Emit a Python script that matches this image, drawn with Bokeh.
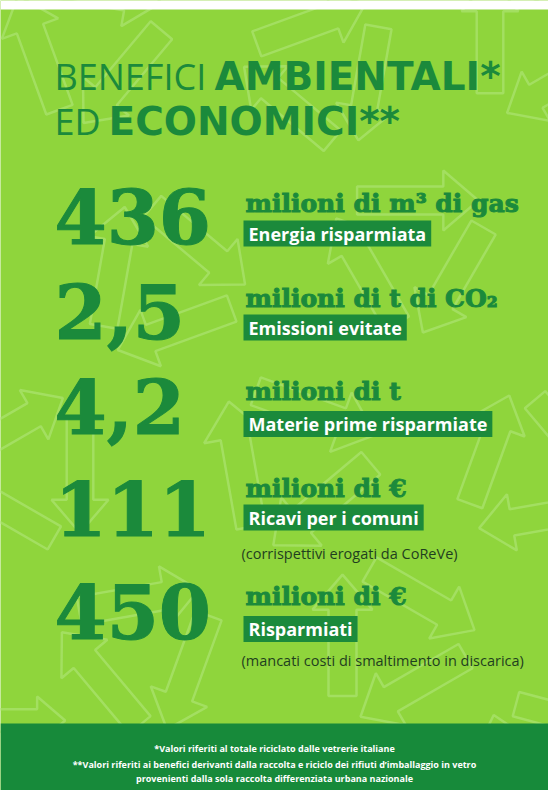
import math
from bokeh.plotting import figure
from bokeh.models import Range1d
from bokeh.embed import file_html
from bokeh.resources import INLINE
from bokeh.core.properties import value

# ---------------- data ----------------
title_light = ["BENEFICI", "ED"]
title_bold = ["AMBIENTALI*", "ECONOMICI**"]
values = ["436", "2,5", "4,2", "111", "450"]
units = ["milioni di m³ di gas", "milioni di t di CO₂", "milioni di t", "milioni di €", "milioni di €"]
labels = ["Energia risparmiata", "Emissioni evitate", "Materie prime risparmiate",
          "Ricavi per i comuni", "Risparmiati"]
notes = ["", "", "", "(corrispettivi erogati da CoReVe)", "(mancati costi di smaltimento in discarica)"]
footnotes = [
    "*Valori riferiti al totale riciclato dalle vetrerie italiane",
    "**Valori riferiti ai benefici derivanti dalla raccolta e riciclo dei rifiuti d\u2019imballaggio in vetro",
    "provenienti dalla sola raccolta differenziata urbana nazionale",
]

# ---------------- layout (screen pixel positions, top-down; y = visual centre) ----------------
W, H = 548, 790
X0 = 8
top_margin = 9
title_centers = [76, 121]
title_light_x = [62, 62]
title_bold_x = [222, 116]
num_x = 62
num_centers = [216, 311, 406, 508, 611]
unit_x = 253
unit_centers = [203, 298, 391, 488, 596]
box_x = 246
box_centers = [233, 327, 423.5, 517, 628.5]
note_x = 249
note_centers = [0, 0, 0, 553, 660]
footer_top = 723
footer_lines_y = [748, 764, 778]

BG = "#8fd53c"
PATTERN = "#a8e16a"
DARK = "#1b8a3b"
FOOT = "#178a3a"
NOTE = "#1f3f1f"

p = figure(width=W, height=H, output_backend="svg", toolbar_location=None,
           x_range=Range1d(X0, X0 + W), y_range=Range1d(H, 0),
           x_axis_location=None, y_axis_location=None,
           min_border=0, background_fill_color=BG, border_fill_color=BG)
p.grid.visible = False
p.outline_line_color = None

# ---------------- background recycling pattern ----------------
symbols = [(95, 40, 100, 10), (330, 70, 95, -20), (545, 40, 95, 30),
           (170, 280, 100, 40), (420, 250, 100, 0), (40, 470, 95, -30),
           (300, 460, 105, 20), (540, 470, 95, 50), (150, 650, 100, -10),
           (400, 640, 100, 30), (20, 760, 80, 0), (560, 760, 90, 15)]


def block_arrow(ax, ay, bx, by, sw, hw, hl):
    dx, dy = bx - ax, by - ay
    L = math.hypot(dx, dy)
    ux, uy = dx / L, dy / L
    nx, ny = -uy, ux
    pts = [(0, -sw / 2), (L - hl, -sw / 2), (L - hl, -hw / 2), (L, 0),
           (L - hl, hw / 2), (L - hl, sw / 2), (0, sw / 2)]
    xs = [ax + t * ux + s * nx for t, s in pts]
    ys = [ay + t * uy + s * ny for t, s in pts]
    return xs, ys


pxs, pys = [], []
for cx, cy, R, rot in symbols:
    verts = []
    for k in range(3):
        a = math.radians(rot + 90 + 120 * k)
        verts.append((cx + R * math.cos(a), cy + R * math.sin(a)))
    for k in range(3):
        (x1, y1), (x2, y2) = verts[k], verts[(k + 1) % 3]
        ax_, ay_ = x1 + 0.18 * (x2 - x1), y1 + 0.18 * (y2 - y1)
        bx_, by_ = x1 + 0.88 * (x2 - x1), y1 + 0.88 * (y2 - y1)
        xs, ys = block_arrow(ax_, ay_, bx_, by_, 0.28 * R, 0.6 * R, 0.35 * R)
        pxs.append(xs)
        pys.append(ys)
p.patches(pxs, pys, fill_alpha=0, line_color=PATTERN, line_width=2.5, line_alpha=0.8)

# white page strip above the poster
p.quad(left=X0, right=X0 + W, top=0, bottom=top_margin, fill_color="white", line_color=None)

# ---------------- title ----------------
p.text(x=title_light_x, y=title_centers, text=title_light, text_color=DARK,
       text_font=value("Open Sans"), text_font_size="36px", text_baseline="middle")
p.text(x=title_bold_x, y=title_centers, text=title_bold, text_color=DARK,
       text_font=value("DejaVu Sans"), text_font_style="bold", text_font_size="39px",
       text_baseline="middle")

# ---------------- numbers ----------------
p.text(x=[num_x] * len(values), y=num_centers, text=values, text_color=DARK,
       text_font=value("DejaVu Serif"), text_font_style="bold",
       text_font_size="75px", text_baseline="middle",
       text_outline_color=DARK)

# ---------------- units ----------------
p.text(x=[unit_x] * len(units), y=unit_centers, text=units, text_color=DARK,
       text_font=value("DejaVu Serif"), text_font_style="bold",
       text_font_size="25px", text_baseline="middle",
       text_outline_color=DARK)

# ---------------- labels in boxes ----------------
p.text(x=[box_x + 5] * len(labels), y=box_centers, text=labels, text_color="white",
       text_font=value("Open Sans"), text_font_style="bold", text_font_size="18px",
       text_baseline="middle", background_fill_color=DARK,
       padding=dict(left=5, right=5, top=1, bottom=1))

# ---------------- notes ----------------
ni = [i for i, n in enumerate(notes) if n]
p.text(x=[note_x] * len(ni), y=[note_centers[i] for i in ni], text=[notes[i] for i in ni],
       text_color=NOTE, text_font=value("Open Sans"), text_font_size="14.5px",
       text_baseline="middle")

# ---------------- footer ----------------
p.quad(left=X0, right=X0 + W, top=footer_top, bottom=H + 20, fill_color=FOOT, line_color=None)
for fy, fn in zip(footer_lines_y, footnotes):
    p.text(x=[282], y=[fy], text=[fn], text_color="white",
           text_font=value("Open Sans"), text_font_style="bold", text_font_size="9px",
           text_align="center", text_baseline="middle")

open("out.html", "w").write(file_html(p, INLINE))
